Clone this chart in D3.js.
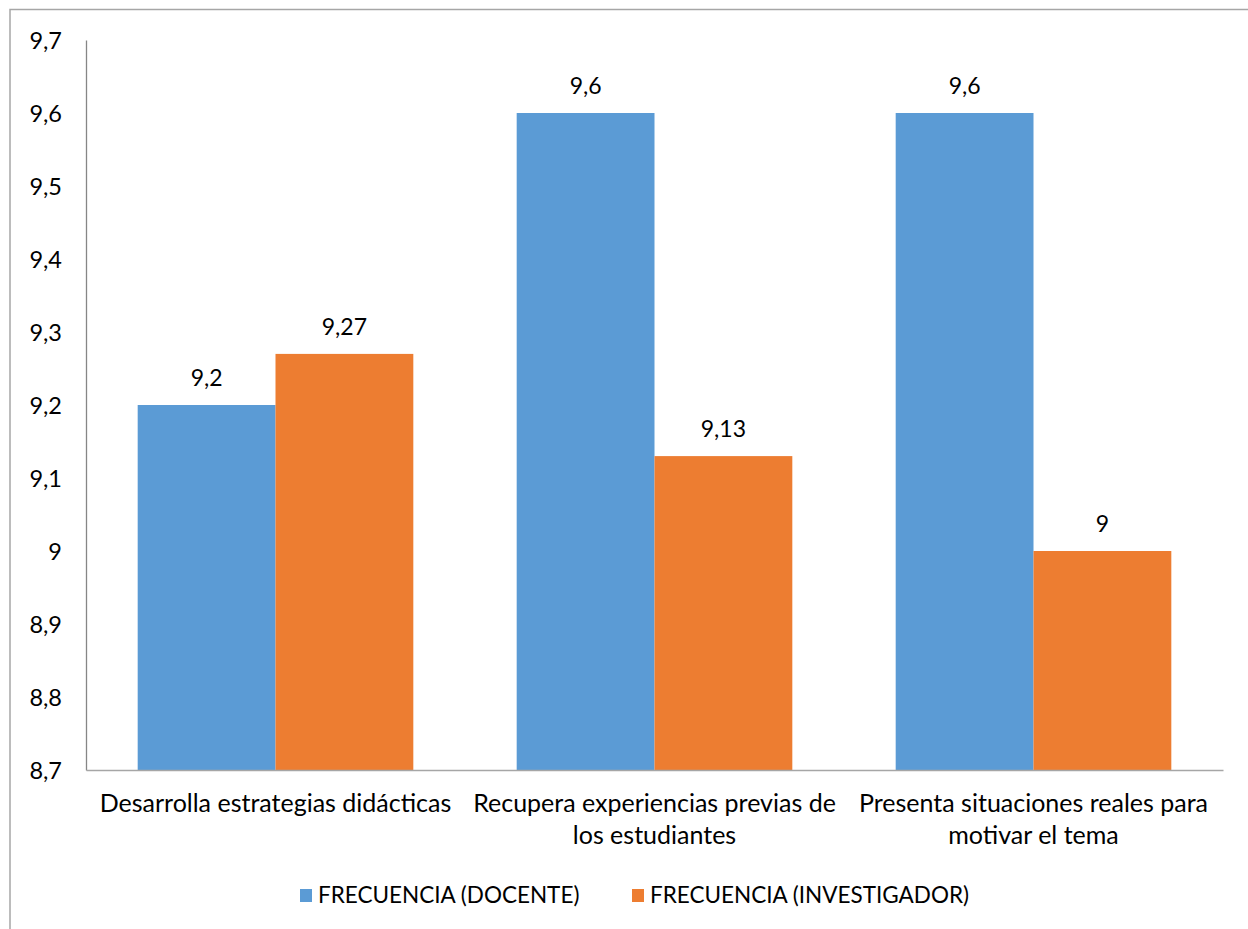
<!DOCTYPE html>
<html>
<head>
<meta charset="utf-8">
<script src="https://cdn.jsdelivr.net/npm/d3@7/dist/d3.min.js"></script>
<style>
  html, body { margin: 0; padding: 0; background: #fff; }
  svg { display: block; font-family: Lato, "Open Sans", sans-serif; }
</style>
</head>
<body>
<svg id="chart" width="1248" height="929"></svg>
<script>
// Categories (each label split into its display lines)
const categories = [
  ["Desarrolla estrategias didácticas"],
  ["Recupera experiencias previas de", "los estudiantes"],
  ["Presenta situaciones reales para", "motivar el tema"]
];
const seriesNames = ["FRECUENCIA (DOCENTE)", "FRECUENCIA (INVESTIGADOR)"];
const docente = [9.2, 9.6, 9.6];
const investigador = [9.27, 9.13, 9];
const yTicks = [8.7, 8.8, 8.9, 9, 9.1, 9.2, 9.3, 9.4, 9.5, 9.6, 9.7];

const colors = ["#5b9bd5", "#ed7d31"];
const fmt = v => String(v).replace(".", ",");

const svg = d3.select("#chart");
const W = 1248, H = 929;
const plot = { left: 86, right: 1223, top: 40, bottom: 770 };

// chart frame (only top and left edges fall inside the view)
svg.append("rect")
  .attr("x", 10).attr("y", 9.5)
  .attr("width", W + 20).attr("height", H + 20)
  .attr("fill", "none").attr("stroke", "#a6a6a6").attr("stroke-width", 1.5);

// category bands; inside each, two bars with a gap of 0.75 bar widths
const xc = d3.scaleBand()
  .domain(d3.range(categories.length))
  .range([plot.left, plot.right])
  .padding(0);
const band = xc.bandwidth();
const x1 = d3.scaleBand()
  .domain([0, 1])
  .range([band * 0.75 / 2.75 / 2, band - band * 0.75 / 2.75 / 2])
  .padding(0);

const y = d3.scaleLinear().domain([8.7, 9.7]).range([plot.bottom, plot.top]);

// y axis
const yAxis = d3.axisLeft(y).tickValues(yTicks).tickSize(0).tickPadding(0)
  .tickFormat(fmt);
const gy = svg.append("g").attr("transform", `translate(${plot.left},0)`).call(yAxis);
gy.select(".domain").attr("stroke", "#868686").attr("stroke-width", 1.3);
gy.selectAll(".tick text")
  .attr("x", -24).attr("dy", "0.36em")
  .attr("fill", "#000").style("font-size", "23.5px").style("font-family", "Lato, sans-serif");

// bars and value labels
const series = [docente, investigador];
const groups = svg.append("g");
series.forEach((vals, si) => {
  groups.selectAll(null)
    .data(vals)
    .enter().append("rect")
    .attr("x", (d, i) => xc(i) + x1(si))
    .attr("y", d => y(d))
    .attr("width", x1.bandwidth())
    .attr("height", d => y(8.7) - y(d))
    .attr("fill", colors[si]);
  groups.selectAll(null)
    .data(vals)
    .enter().append("text")
    .attr("x", (d, i) => xc(i) + x1(si) + x1.bandwidth() / 2)
    .attr("y", d => y(d) - 19)
    .attr("text-anchor", "middle")
    .attr("fill", "#000")
    .style("font-size", "23px")
    .text(fmt);
});

// x axis baseline
const xAxis = d3.axisBottom(xc).tickSize(0).tickFormat("");
const gx = svg.append("g").attr("transform", `translate(0,${plot.bottom})`).call(xAxis);
gx.select(".domain").attr("stroke", "#a6a6a6").attr("stroke-width", 1.5);

// category labels
categories.forEach((lines, i) => {
  const t = svg.append("text")
    .attr("text-anchor", "middle")
    .attr("fill", "#000")
    .style("font-size", "25px");
  lines.forEach((ln, j) => {
    t.append("tspan")
      .attr("x", xc(i) + band / 2)
      .attr("y", 812 + j * 31.5)
      .text(ln);
  });
});

// legend
const legendItems = [
  { name: seriesNames[0], color: colors[0], x: 300 },
  { name: seriesNames[1], color: colors[1], x: 632 }
];
const lg = svg.append("g");
legendItems.forEach(it => {
  lg.append("rect").attr("x", it.x).attr("y", 889).attr("width", 12).attr("height", 13)
    .attr("fill", it.color);
  lg.append("text").attr("x", it.x + 18).attr("y", 903)
    .attr("fill", "#000").style("font-size", "22.5px").text(it.name);
});
</script>
</body>
</html>
